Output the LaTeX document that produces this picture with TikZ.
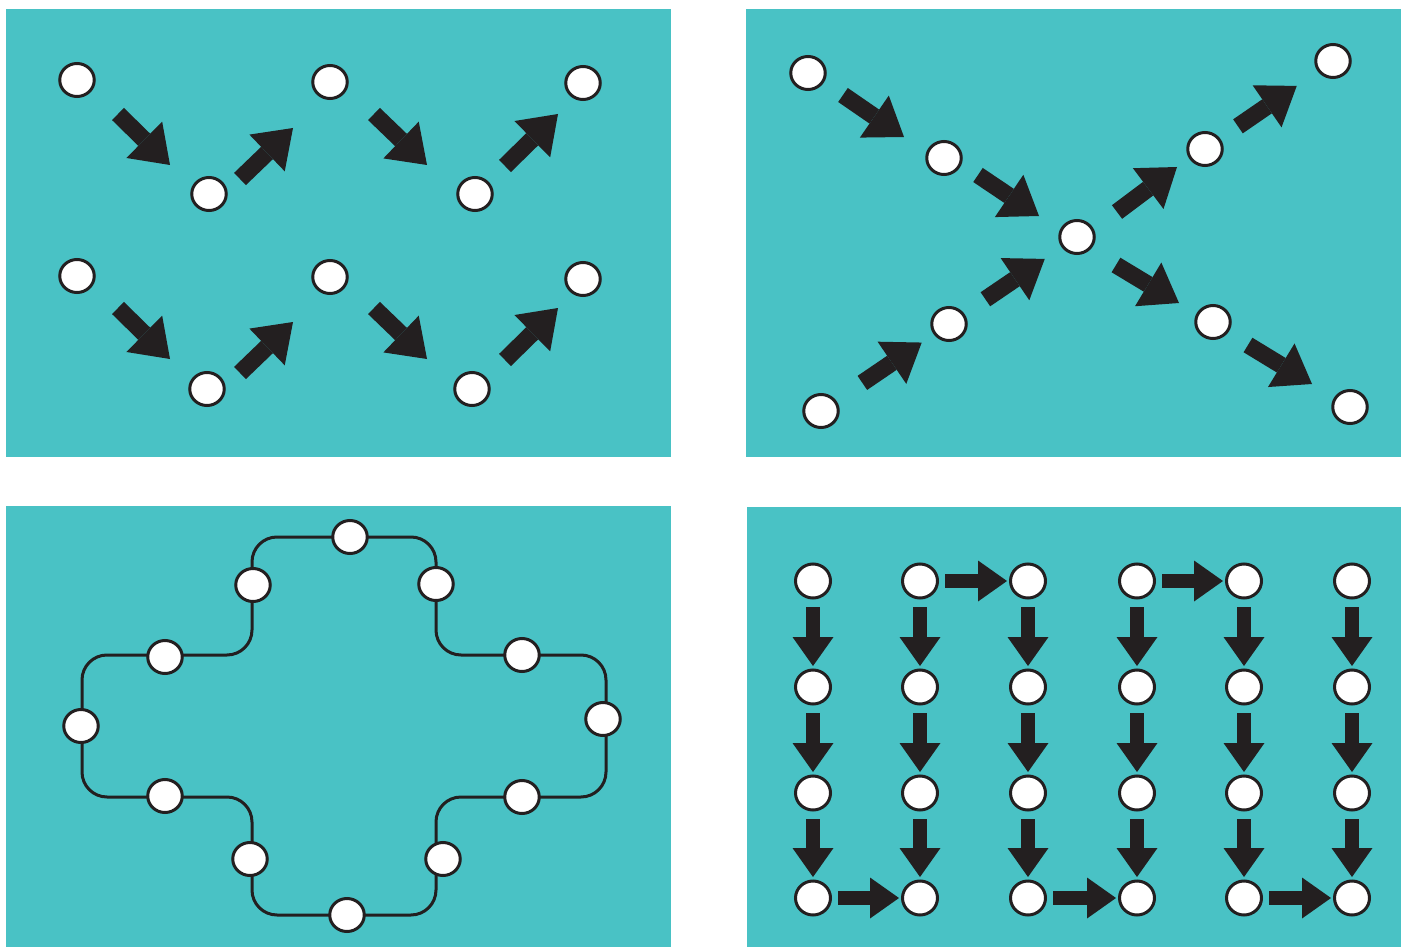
\documentclass[tikz,border=0pt]{standalone}
\usetikzlibrary{arrows.meta,shapes.geometric,calc}
\definecolor{teal1}{HTML}{49C2C5}
\definecolor{ink}{HTML}{231F20}
\begin{document}
\begin{tikzpicture}[x=1pt,y=-1pt,
  panel/.style={fill=teal1, draw=none},
  dot/.style={ellipse, draw=ink, fill=white, line width=3pt, minimum width=34.5pt, minimum height=33pt, inner sep=0pt},
  bigarr/.style={draw=ink, line width=17pt, -{Triangle[length=36pt,width=51pt,line width=0pt]}},
  smallarr/.style={draw=ink, line width=14pt, -{Triangle[length=29pt,width=41pt,line width=0pt]}},
  ringpath/.style={draw=ink, line width=3pt, rounded corners=25pt}]
\useasboundingbox (0,0) rectangle (1401,947);
\fill[white] (0,0) rectangle (1401,947);
\fill[panel] (6,9) rectangle (671,457);
\fill[panel] (746,9) rectangle (1401,457);
\fill[panel] (6,506) rectangle (671,947);
\fill[panel] (747,507) rectangle (1401,947);

% ---------- top left: two waves ----------
\node[dot] (a1) at (77,80) {};
\node[dot] (b1) at (209,194) {};
\node[dot] (c1) at (330,82) {};
\node[dot] (d1) at (475,194) {};
\node[dot] (e1) at (583,83) {};
\node[dot] (a2) at (77,276) {};
\node[dot] (b2) at (207,389) {};
\node[dot] (c2) at (330,277) {};
\node[dot] (d2) at (472,389) {};
\node[dot] (e2) at (583,279) {};
\draw[bigarr] ($(a1)+(41,34)$) -- ++(52,51);
\draw[bigarr] ($(b1)+(31,-15)$) -- ++(53,-51);
\draw[bigarr] ($(c1)+(44,32)$) -- ++(53,51);
\draw[bigarr] ($(d1)+(30,-28)$) -- ++(53,-52);
\draw[bigarr] ($(a2)+(41,32)$) -- ++(52,51);
\draw[bigarr] ($(b2)+(33,-16)$) -- ++(53,-51);
\draw[bigarr] ($(c2)+(44,31)$) -- ++(53,51);
\draw[bigarr] ($(d2)+(33,-29)$) -- ++(53,-52);

% ---------- top right: crossing ----------
\node[dot] (p1) at (808,73) {};
\node[dot] (p2) at (944,158) {};
\node[dot] (x0) at (1077,237) {};
\node[dot] (q1) at (1205,149) {};
\node[dot] (q2) at (1333,61) {};
\node[dot] (r1) at (821,411) {};
\node[dot] (r2) at (949,324) {};
\node[dot] (s1) at (1213,322) {};
\node[dot] (s2) at (1350,407) {};
\draw[bigarr] ($(p1)+(35,22)$) -- ++(61,42);
\draw[bigarr] ($(p2)+(34,17)$) -- ++(61,41);
\draw[bigarr] ($(r1)!50pt!(r2)$) -- ($(r2)!33pt!(r1)$);
\draw[bigarr] ($(r2)!44pt!(x0)$) -- ($(x0)!39pt!(r2)$);
\draw[bigarr] ($(x0)+(40,-25)$) -- ++(60,-45);
\draw[bigarr] ($(q1)!40pt!(q2)$) -- ($(q2)!44pt!(q1)$);
\draw[bigarr] ($(x0)+(39,28)$) -- ++(63,38);
\draw[bigarr] ($(s1)+(35,23)$) -- ++(64,39);

% ---------- bottom left: rounded cross ----------
\draw[ringpath] (350,537) -- (436,537) -- (436,655) -- (606,655) -- (606,797)
  -- (436,797) -- (436,915) -- (252,915) -- (252,797) -- (82,797) -- (82,655)
  -- (252,655) -- (252,537) -- cycle;
\node[dot] (t1) at (350,537) {};
\node[dot] (t2) at (436,584) {};
\node[dot] (t3) at (522,655) {};
\node[dot] (t4) at (603,719) {};
\node[dot] (t5) at (522,797) {};
\node[dot] (t6) at (443,859) {};
\node[dot] (t7) at (347,915) {};
\node[dot] (t8) at (250,859) {};
\node[dot] (t9) at (165,796) {};
\node[dot] (t10) at (81,726) {};
\node[dot] (t11) at (165,657) {};
\node[dot] (t12) at (253,585) {};

% ---------- bottom right: serpentine grid ----------
\foreach \c/\x in {1/813,2/920,3/1028,4/1137,5/1244,6/1352}{
  \foreach \r/\y in {1/581,2/687,3/793,4/898}{
    \node[dot, minimum width=35pt, minimum height=34pt] (m\c\r) at (\x,\y) {};
  }
}
\foreach \c in {1,...,6}{
  \foreach \r/\n in {1/2,2/3,3/4}{
    \draw[smallarr] ($(m\c\r)!26pt!(m\c\n)$) -- ($(m\c\n)!21pt!(m\c\r)$);
  }
}
\foreach \a/\b in {m21/m31,m41/m51,m14/m24,m34/m44,m54/m64}{
  \draw[smallarr] ($(\a)!25pt!(\b)$) -- ($(\b)!21pt!(\a)$);
}
\end{tikzpicture}
\end{document}
